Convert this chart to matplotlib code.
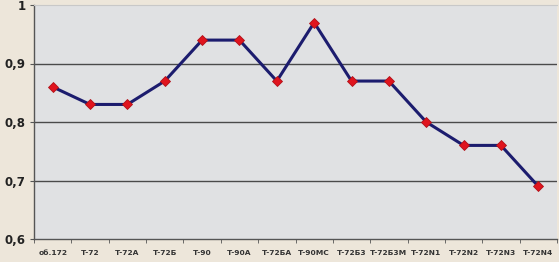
import matplotlib
matplotlib.use("Agg")
import matplotlib.pyplot as plt
import numpy as np

categories = ["об.172", "Т-72", "Т-72А", "Т-72Б", "Т-90", "Т-90А", "Т-72БА",
              "Т-90МС", "Т-72Б3", "Т-72Б3М", "Т-72N1", "Т-72N2", "Т-72N3", "Т-72N4"]
values = [0.86, 0.83, 0.83, 0.87, 0.94, 0.94, 0.87, 0.97, 0.87, 0.87, 0.80, 0.76, 0.76, 0.69]
yticks = [0.6, 0.7, 0.8, 0.9, 1.0]
ytick_labels = ["0,6", "0,7", "0,8", "0,9", "1"]

fig = plt.figure(figsize=(5.59, 2.62), dpi=100)
fig.patch.set_facecolor("#ede6da")
ax = fig.add_axes([34/559, 1 - 239/262, 523/559, 234/262])
ax.set_facecolor("#e0e1e3")

x = np.arange(len(categories))
ax.plot(x, values, color="#1c1c6e", lw=2.2, marker="D", ms=5.5,
        mfc="#e0141e", mec="#b01018", mew=0.6, zorder=3)

ax.set_xlim(-0.5, len(categories) - 0.5)
ax.set_ylim(0.6, 1.0)
ax.set_yticks(yticks)
ax.set_yticklabels(ytick_labels, fontsize=8.5, fontweight="bold", color="#222222")
ax.set_xticks(x)
ax.set_xticklabels(categories, fontsize=5.4, fontweight="bold", color="#333333")
ax.set_xticks(np.arange(-0.5, len(categories)), minor=True)
ax.tick_params(axis="x", which="major", length=0, pad=8)
ax.tick_params(axis="x", which="minor", length=3, color="#555555", direction="out")
ax.tick_params(axis="y", length=3, color="#555555", pad=3)

for yv in [0.7, 0.8, 0.9]:
    ax.axhline(yv, color="#4a4a4a", lw=1.0, zorder=1)

ax.spines["right"].set_visible(False)
ax.spines["top"].set_color("#c8c8c8")
ax.spines["top"].set_linewidth(0.8)
ax.spines["left"].set_color("#555555")
ax.spines["bottom"].set_color("#555555")
ax.spines["left"].set_linewidth(1.0)
ax.spines["bottom"].set_linewidth(1.0)

fig.savefig("out.png", dpi=100, facecolor=fig.get_facecolor())
